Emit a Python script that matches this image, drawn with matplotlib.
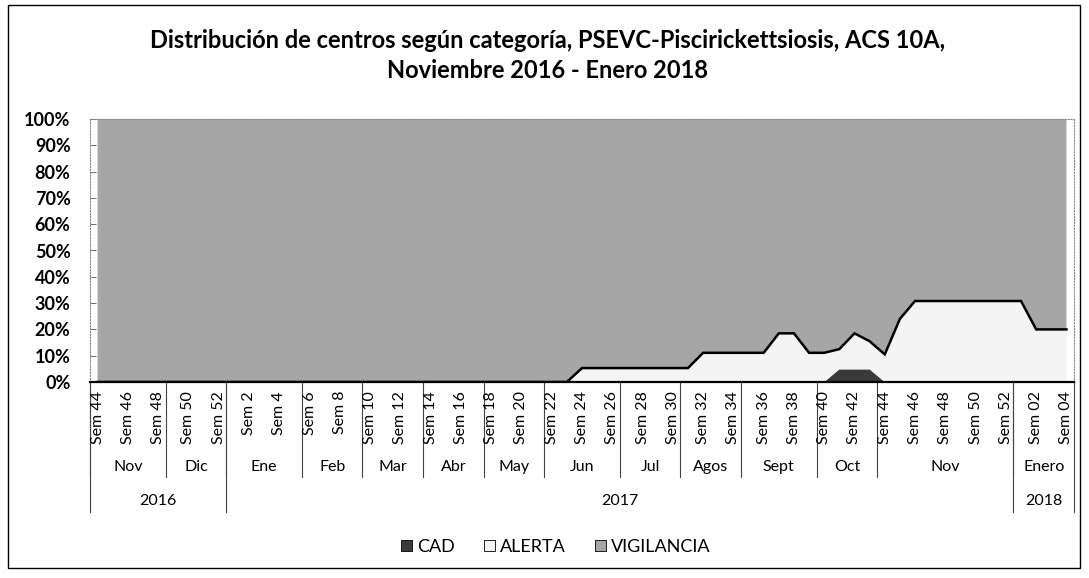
import matplotlib
matplotlib.use("Agg")
import matplotlib.pyplot as plt
from matplotlib.patches import Patch, Rectangle
import numpy as np

plt.rcParams['font.family'] = ['Lato', 'DejaVu Sans']

# categorias: semanas Sem 44 2016 ... Sem 04 2018
weeks_2016 = [f"Sem {w}" for w in range(44, 53)]
weeks_2017 = [f"Sem {w}" for w in range(1, 53)]
weeks_2018 = ["Sem 01", "Sem 02", "Sem 03", "Sem 04"]
week_labels = weeks_2016 + weeks_2017 + weeks_2018

months = ['Nov', 'Dic', 'Ene', 'Feb', 'Mar', 'Abr', 'May', 'Jun', 'Jul',
          'Agos', 'Sept', 'Oct', 'Nov', 'Enero']
month_weeks = [5, 4, 5, 4, 4, 4, 4, 5, 4, 4, 5, 4, 9, 4]
years = ['2016', '2017', '2018']
year_weeks = [9, 52, 4]

# % de centros por categoria
cad = [
    0, 0, 0, 0, 0,                 # Nov 2016
    0, 0, 0, 0,                    # Dic
    0, 0, 0, 0, 0,                 # Ene
    0, 0, 0, 0,                    # Feb
    0, 0, 0, 0,                    # Mar
    0, 0, 0, 0,                    # Abr
    0, 0, 0, 0,                    # May
    0, 0, 0, 0, 0,                 # Jun
    0, 0, 0, 0,                    # Jul
    0, 0, 0, 0,                    # Agos
    0, 0, 0, 0, 0,                 # Sept
    0, 4.8, 4.8, 4.8,              # Oct
    0, 0, 0, 0, 0, 0, 0, 0, 0,     # Nov
    0, 0, 0, 0,                    # Enero 2018
]
alerta = [
    0, 0, 0, 0, 0,
    0, 0, 0, 0,
    0, 0, 0, 0, 0,
    0, 0, 0, 0,
    0, 0, 0, 0,
    0, 0, 0, 0,
    0, 0, 0, 0,
    0, 0, 5.3, 5.3, 5.3,
    5.3, 5.3, 5.3, 5.3,
    5.3, 11.1, 11.1, 11.1,
    11.1, 11.1, 18.5, 18.5, 11.1,
    11.1, 7.7, 13.7, 10.7,
    10.5, 24.0, 30.8, 30.8, 30.8, 30.8, 30.8, 30.8, 30.8,
    30.8, 20.0, 20.0, 20.0,
]
cad = np.array(cad)
alerta = np.array(alerta)
vigilancia = 100 - cad - alerta

c_cad = '#3a3a3a'
c_alerta = '#f4f4f4'
c_vig = '#a6a6a6'

W, H = 1089, 578
fig = plt.figure(figsize=(W / 100, H / 100), dpi=100)

def fx(px):
    return px / W

def fy(py):
    return 1 - py / H

# plot area in pixels
L, R, T, B = 90, 1074, 119, 382
ax = fig.add_axes([fx(L), fy(B), fx(R) - fx(L), fy(T) - fy(B)])

x = np.arange(len(week_labels))
ax.stackplot(x, cad, alerta, vigilancia, colors=[c_cad, c_alerta, c_vig],
             linewidth=0)
ax.plot(x, cad + alerta, color='black', lw=1.8, solid_joinstyle='miter')

ax.set_xlim(-0.5, len(x) - 0.5)
ax.set_ylim(0, 100)
ax.set_yticks(range(0, 101, 10))
ax.set_yticklabels([f"{v}%" for v in range(0, 101, 10)],
                   fontsize=13, fontweight='bold')
ax.tick_params(axis='y', direction='in', length=4, width=0.6, pad=14,
               colors='#555555', labelcolor='black')
ax.set_xticks([])
for s in ['top', 'right', 'left']:
    ax.spines[s].set_linestyle(':')
    ax.spines[s].set_color('#888888')
    ax.spines[s].set_linewidth(0.8)
ax.spines['bottom'].set_color('black')
ax.spines['bottom'].set_linewidth(1.6)

# etiquetas multinivel del eje x
def ay(py):
    return (B - py) / (B - T)

tr = ax.get_xaxis_transform()
for i in range(0, len(week_labels), 2):
    ax.text(i, ay(391), week_labels[i], rotation=90, ha='center', va='top',
            fontsize=11.5, transform=tr, clip_on=False)

start = 0
for name, n in zip(months, month_weeks):
    ax.text(start + (n - 1) / 2, ay(467), name, ha='center', va='center',
            fontsize=11.5, transform=tr, clip_on=False)
    ax.plot([start - 0.5, start - 0.5], [ay(B), ay(477)], color='#444444',
            lw=0.8, transform=tr, clip_on=False)
    start += n

start = 0
for name, n in zip(years, year_weeks):
    ax.text(start + (n - 1) / 2, ay(501), name, ha='center', va='center',
            fontsize=11.5, transform=tr, clip_on=False)
    ax.plot([start - 0.5, start - 0.5], [ay(B), ay(512)], color='#444444',
            lw=0.8, transform=tr, clip_on=False)
    start += n
ax.plot([start - 0.5, start - 0.5], [ay(B), ay(512)], color='#444444',
        lw=0.8, transform=tr, clip_on=False)

fig.text(0.503, fy(40), "Distribución de centros según categoría, PSEVC-Piscirickettsiosis, ACS 10A,",
         ha='center', va='center', fontsize=17, fontweight='bold')
fig.text(0.503, fy(71), "Noviembre 2016 - Enero 2018",
         ha='center', va='center', fontsize=17, fontweight='bold')

handles = [Patch(facecolor=c_cad, edgecolor='black', lw=0.6, label='CAD'),
           Patch(facecolor=c_alerta, edgecolor='black', lw=0.6, label='ALERTA'),
           Patch(facecolor=c_vig, edgecolor='black', lw=0.6, label='VIGILANCIA')]
fig.legend(handles=handles, loc='center', bbox_to_anchor=(fx(556), fy(547)),
           ncol=3, frameon=False, fontsize=13, handlelength=0.6,
           handleheight=0.6, handletextpad=0.3, columnspacing=1.6)

fig.add_artist(Rectangle((fx(8), fy(568)), fx(1080) - fx(8), fy(5) - fy(568),
                         transform=fig.transFigure, fill=False,
                         edgecolor='black', lw=1))

fig.savefig("out.png", dpi=100)
